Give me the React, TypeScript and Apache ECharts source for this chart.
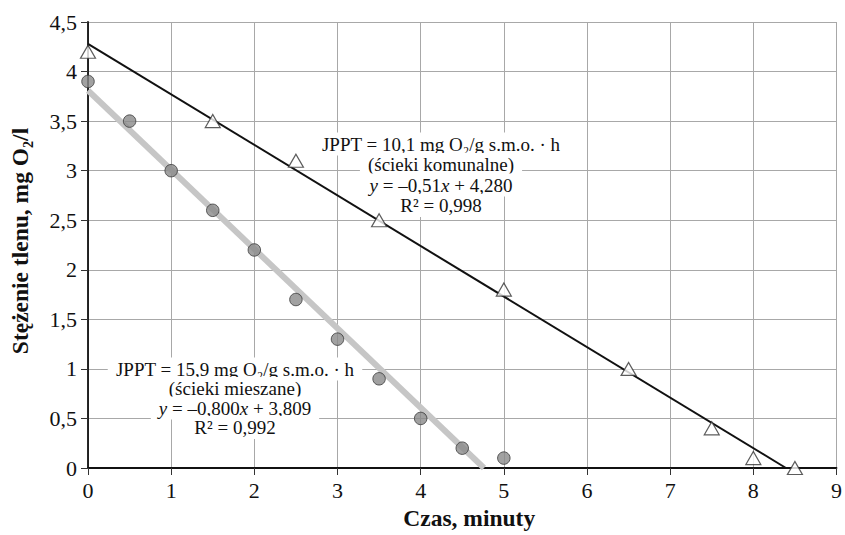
import React, { useEffect, useRef } from "react";
import * as echarts from "echarts";

const FONT = "Liberation Serif";

// Dane: ścieki komunalne (trójkąty)
const komunalneX = [0, 1.5, 2.5, 3.5, 5, 6.5, 7.5, 8, 8.5];
const komunalneY = [4.2, 3.5, 3.1, 2.5, 1.8, 1.0, 0.4, 0.1, 0.0];
// Dane: ścieki mieszane (koła)
const mieszaneX = [0, 0.5, 1, 1.5, 2, 2.5, 3, 3.5, 4, 4.5, 5];
const mieszaneY = [3.9, 3.5, 3.0, 2.6, 2.2, 1.7, 1.3, 0.9, 0.5, 0.2, 0.1];

// Regresje liniowe: [nachylenie, wyraz wolny]
const trendKomunalne = [-0.51, 4.28];
const trendMieszane = [-0.8, 3.809];

const xTicks = [0, 9, 1];
const yTicks = [0, 4.5, 0.5];

const label1 = [
  "JPPT = 10,1 mg O₂/g s.m.o. · h",
  "(ścieki komunalne)",
  "{i|y} = –0,51{i|x} + 4,280",
  "R² = 0,998",
];
const label2 = [
  "JPPT = 15,9 mg O₂/g s.m.o. · h",
  "(ścieki mieszane)",
  "{i|y} = –0,800{i|x} + 3,809",
  "R² = 0,992",
];

function trendLine(t: number[]) {
  const x1 = -t[1] / t[0];
  return [
    [0, t[1]],
    [x1, 0],
  ];
}

export default function App() {
  const ref = useRef<HTMLDivElement>(null);
  useEffect(() => {
    if (!ref.current) return;
    const chart = echarts.init(ref.current, undefined, { renderer: "svg" });
    const fmt = (v: number) => String(v).replace(".", ",");
    const annot = (lines: string[], cx: number, cy0: number, lh: number) =>
      lines.map((line, k) => ({
        type: "text",
        x: cx,
        y: cy0 + k * lh,
        z: 1,
        zlevel: 0,
        style: {
          text: line,
          align: "center",
          verticalAlign: "middle",
          fontFamily: FONT,
          fontSize: 19,
          fill: "#111",
          backgroundColor: "#fff",
          padding: [2, 8, 2, 8],
          rich: {
            i: { fontStyle: "italic", fontFamily: FONT, fontSize: 19, fill: "#111" },
          },
        },
      }));
    chart.setOption({
      animation: false,
      backgroundColor: "#fff",
      textStyle: { fontFamily: FONT },
      grid: { left: 88, right: 5, top: 22, bottom: 66, containLabel: false },
      xAxis: {
        type: "value",
        min: xTicks[0],
        max: xTicks[1],
        interval: xTicks[2],
        name: "Czas, minuty",
        nameLocation: "middle",
        nameGap: 38,
        nameTextStyle: { fontFamily: FONT, fontSize: 23.5, fontWeight: "bold", color: "#111", padding: [0, 0, 0, 14] },
        axisLine: { lineStyle: { color: "#111", width: 1.8 } },
        axisTick: { show: true, length: 7, lineStyle: { color: "#333" } },
        axisLabel: { fontFamily: FONT, fontSize: 22, color: "#111", margin: 11, formatter: fmt },
        splitLine: { lineStyle: { color: "#a8a8a8", width: 1 } },
      },
      yAxis: {
        type: "value",
        min: yTicks[0],
        max: yTicks[1],
        interval: yTicks[2],
        axisLine: { show: true, lineStyle: { color: "#111", width: 1.8 } },
        axisTick: { show: true, length: 7, lineStyle: { color: "#333" } },
        axisLabel: { fontFamily: FONT, fontSize: 22, color: "#111", margin: 11, formatter: fmt },
        splitLine: { lineStyle: { color: "#a8a8a8", width: 1 } },
      },
      graphic: [
        {
          type: "text",
          x: 20,
          y: 241,
          rotation: Math.PI / 2,
          style: {
            text: "Stężenie tlenu, mg O₂/l",
            align: "center",
            verticalAlign: "middle",
            fontFamily: FONT,
            fontSize: 23.5,
            fontWeight: "bold",
            fill: "#111",
          },
        },
        ...annot(label1, 441, 144, 20.5),
        ...annot(label2, 235, 369, 19.5),
      ],
      series: [
        {
          type: "line",
          data: trendLine(trendMieszane),
          symbol: "none",
          lineStyle: { color: "#c6c6c6", width: 6 },
          z: 2,
        },
        {
          type: "line",
          data: trendLine(trendKomunalne),
          symbol: "none",
          lineStyle: { color: "#111", width: 2 },
          z: 2,
        },
        {
          type: "scatter",
          data: mieszaneX.map((x, i) => [x, mieszaneY[i]]),
          symbol: "circle",
          symbolSize: 12.5,
          itemStyle: { color: "#8a8a8a", borderColor: "#3a3a3a", borderWidth: 1 },
          z: 5,
        },
        {
          type: "scatter",
          data: komunalneX.map((x, i) => [x, komunalneY[i]]),
          symbol: "triangle",
          symbolSize: [15, 13],
          itemStyle: { color: "#fff", borderColor: "#333", borderWidth: 1.2 },
          z: 5,
        },
      ],
    });
    return () => chart.dispose();
  }, []);
  return <div ref={ref} style={{ width: 845, height: 535, position: "absolute", left: 0, top: 0 }} />;
}
